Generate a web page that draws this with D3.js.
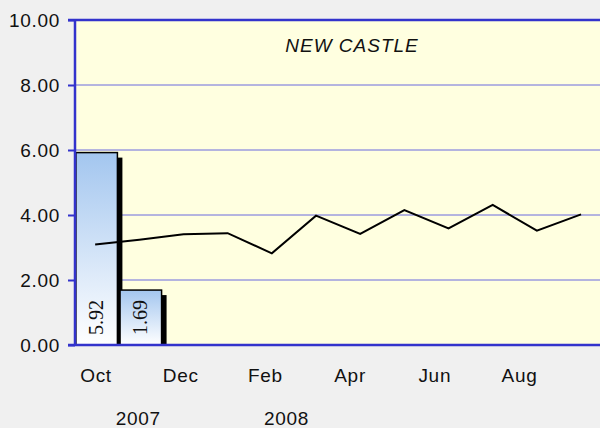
<!DOCTYPE html>
<html>
<head>
<meta charset="utf-8">
<script src="https://cdn.jsdelivr.net/npm/d3@7"></script>
<style>
  html, body { margin: 0; padding: 0; background: #f0f0f0; }
  svg { display: block; }
  .tickLabel { font-family: Arial, "Liberation Sans", sans-serif; font-size: 19px; letter-spacing: 0.7px; fill: #111; }
</style>
</head>
<body>
<div id="chart"></div>
<script>
// ---- data ----
const months = ['Oct', 'Nov', 'Dec', 'Jan', 'Feb', 'Mar', 'Apr', 'May', 'Jun', 'Jul', 'Aug', 'Sep'];
const monthLabels = ['Oct', 'Dec', 'Feb', 'Apr', 'Jun', 'Aug'];
const barMonths = ['Oct', 'Nov'];
const barValues = [5.92, 1.69];
const lineValues = [3.09, 3.24, 3.41, 3.44, 2.82, 3.98, 3.42, 4.15, 3.59, 4.31, 3.52, 4.02];
const yTicks = [0, 2, 4, 6, 8, 10];
const years = ['2007', '2008'];
const yearAnchors = [['Nov', 'Nov'], ['Feb', 'Mar']];
const title = 'NEW CASTLE';

// ---- layout ----
const width = 600;
const height = 428;
const plotLeft = 75;
const plotTop = 20;
const plotBottom = 345;
const step = 44.1;

const svg = d3.select('#chart').append('svg')
  .attr('width', width)
  .attr('height', height);

const defs = svg.append('defs');
const grad = defs.append('linearGradient')
  .attr('id', 'barGrad')
  .attr('x1', 0).attr('y1', 0).attr('x2', 0).attr('y2', 1);
grad.append('stop').attr('offset', '0%').attr('stop-color', '#a3c6ef');
grad.append('stop').attr('offset', '100%').attr('stop-color', '#ffffff');

defs.append('clipPath').attr('id', 'plotClip')
  .append('rect')
  .attr('x', plotLeft).attr('y', plotTop)
  .attr('width', width - plotLeft).attr('height', plotBottom - plotTop);

// scales
const x = d3.scaleBand()
  .domain(months)
  .range([plotLeft, plotLeft + step * months.length])
  .paddingInner(0.06)
  .paddingOuter(0.02);
const y = d3.scaleLinear()
  .domain([0, 10])
  .range([plotBottom, plotTop]);
// category labels sit on a slightly tighter spacing than the plotted marks
const labelX = d3.scaleLinear()
  .domain([0, months.length - 1])
  .range([96, 96 + 42.35 * (months.length - 1)]);

// background
svg.append('rect')
  .attr('x', plotLeft).attr('y', plotTop)
  .attr('width', width - plotLeft).attr('height', plotBottom - plotTop)
  .attr('fill', '#ffffe0');

// grid lines
svg.append('g')
  .selectAll('line')
  .data(yTicks.filter(d => d > 0 && d < 10))
  .enter().append('line')
  .attr('x1', plotLeft).attr('x2', width)
  .attr('y1', d => y(d)).attr('y2', d => y(d))
  .attr('stroke', '#6a6ade')
  .attr('stroke-width', 1);

// y axis
const yAxis = d3.axisLeft(y)
  .tickValues(yTicks)
  .tickSize(7)
  .tickPadding(8)
  .tickFormat(d3.format('.2f'));
const yg = svg.append('g')
  .attr('transform', `translate(${plotLeft},0)`)
  .call(yAxis);
yg.select('.domain').remove();
yg.selectAll('.tick line').attr('stroke', '#3333cc').attr('stroke-width', 2);
yg.selectAll('.tick text').attr('class', 'tickLabel').attr('fill', '#111').attr('dy', '0.35em');

// bars
const plot = svg.append('g').attr('clip-path', 'url(#plotClip)');
const bars = plot.selectAll('.bar')
  .data(barMonths.map((m, i) => ({ month: m, value: barValues[i] })))
  .enter().append('g')
  .attr('class', 'bar');

bars.append('rect')
  .attr('x', d => x(d.month) + 5)
  .attr('y', d => y(d.value) + 5)
  .attr('width', x.bandwidth())
  .attr('height', d => y(0) - y(d.value))
  .attr('fill', '#000');

bars.append('rect')
  .attr('x', d => x(d.month))
  .attr('y', d => y(d.value))
  .attr('width', x.bandwidth())
  .attr('height', d => y(0) - y(d.value))
  .attr('fill', 'url(#barGrad)')
  .attr('stroke', '#000')
  .attr('stroke-width', 1.5);

bars.append('text')
  .attr('transform', d => `translate(${x(d.month) + x.bandwidth() / 2 + 6},${y(0) - 10}) rotate(-90)`)
  .attr('font-family', '"Liberation Serif", "Times New Roman", serif')
  .attr('font-size', 20)
  .attr('fill', '#111')
  .text(d => d.value.toFixed(2));

// line
const line = d3.line()
  .x((d, i) => x(months[i]) + x.bandwidth() / 2 - 1.5)
  .y(d => y(d));
plot.append('path')
  .datum(lineValues)
  .attr('d', line)
  .attr('fill', 'none')
  .attr('stroke', '#000')
  .attr('stroke-width', 2)
  .attr('stroke-linejoin', 'miter');

// axis frame
svg.append('line')
  .attr('x1', plotLeft - 7).attr('x2', width)
  .attr('y1', plotTop).attr('y2', plotTop)
  .attr('stroke', '#3333cc').attr('stroke-width', 2.5);
svg.append('line')
  .attr('x1', plotLeft - 7).attr('x2', width)
  .attr('y1', plotBottom).attr('y2', plotBottom)
  .attr('stroke', '#3333cc').attr('stroke-width', 2.5);
svg.append('line')
  .attr('x1', plotLeft).attr('x2', plotLeft)
  .attr('y1', plotTop - 1).attr('y2', plotBottom + 1)
  .attr('stroke', '#3333cc').attr('stroke-width', 2.5);

// month labels
svg.append('g')
  .selectAll('text')
  .data(monthLabels)
  .enter().append('text')
  .attr('class', 'tickLabel')
  .attr('x', d => labelX(months.indexOf(d)))
  .attr('y', 382)
  .attr('text-anchor', 'middle')
  .text(d => d);

// year labels
svg.append('g')
  .selectAll('text')
  .data(years)
  .enter().append('text')
  .attr('class', 'tickLabel')
  .attr('x', (d, i) => (labelX(months.indexOf(yearAnchors[i][0])) + labelX(months.indexOf(yearAnchors[i][1]))) / 2)
  .attr('y', 425)
  .attr('text-anchor', 'middle')
  .text(d => d);

// title
svg.append('text')
  .attr('x', 352)
  .attr('y', 52)
  .attr('text-anchor', 'middle')
  .attr('font-family', 'Arial, "Liberation Sans", sans-serif')
  .attr('font-size', 19)
  .attr('letter-spacing', 1)
  .attr('font-style', 'italic')
  .attr('fill', '#111')
  .text(title);
</script>
</body>
</html>
